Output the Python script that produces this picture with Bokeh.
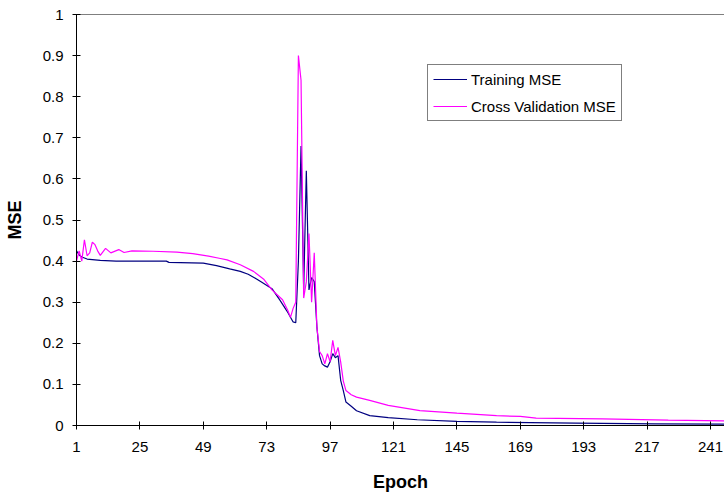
from bokeh.plotting import figure
from bokeh.models import Range1d, FixedTicker, Span, Legend, LegendItem
from bokeh.embed import file_html
from bokeh.resources import INLINE

# ---- data ----
train_epoch = [1, 2, 3, 5, 10, 16, 35, 36, 49, 54, 59, 63, 66, 69, 71, 75, 78, 80, 81, 83, 84,
               85, 86, 87, 88, 89, 90, 91, 92, 93, 94, 95, 96, 97, 98, 99, 100, 101, 102, 103,
               105, 107, 112, 119, 130, 145, 160, 190, 220, 250]
train_mse = [0.425, 0.415, 0.41, 0.405, 0.402, 0.400, 0.400, 0.397, 0.395, 0.389, 0.381, 0.375,
             0.368, 0.357, 0.349, 0.333, 0.305, 0.285, 0.275, 0.252, 0.250,
             0.40, 0.68, 0.33, 0.62, 0.33, 0.36, 0.35, 0.24, 0.17, 0.15, 0.145, 0.142, 0.155,
             0.175, 0.165, 0.17, 0.11, 0.085, 0.057,
             0.047, 0.036, 0.024, 0.019, 0.014, 0.010, 0.008, 0.006, 0.004, 0.003]

cv_epoch = [1, 2, 3, 4, 5, 6, 7, 8, 9, 10, 12, 14, 17, 19, 22, 30, 39, 45, 51, 55, 58, 63, 68,
            72, 75, 79, 81, 82, 83, 84, 85, 86, 87, 88, 89, 90, 91, 92, 93, 94, 95, 96, 97, 98,
            99, 100, 101, 102, 103, 105, 107, 112, 119, 131, 145, 160, 169, 175, 200, 225, 250]
cv_mse = [0.40, 0.425, 0.40, 0.452, 0.413, 0.42, 0.446, 0.44, 0.425, 0.414, 0.431, 0.42, 0.428,
          0.421, 0.425, 0.424, 0.422, 0.418, 0.412, 0.407, 0.403, 0.391, 0.375,
          0.355, 0.33, 0.306, 0.28, 0.263, 0.285, 0.30, 0.90, 0.84, 0.31, 0.35, 0.467, 0.30,
          0.42, 0.24, 0.18, 0.17, 0.15, 0.175, 0.155, 0.207,
          0.17, 0.19, 0.155, 0.108, 0.085, 0.075, 0.069, 0.061, 0.049, 0.036, 0.030, 0.024,
          0.022, 0.018, 0.016, 0.013, 0.011]

x_ticks = [1, 25, 49, 73, 97, 121, 145, 169, 193, 217, 241]
y_ticks = [0, 0.1, 0.2, 0.3, 0.4, 0.5, 0.6, 0.7, 0.8, 0.9, 1]
y_tick_labels = ["0", "0.1", "0.2", "0.3", "0.4", "0.5", "0.6", "0.7", "0.8", "0.9", "1"]

series_names = ["Training MSE", "Cross Validation MSE"]
series_colors = ["#000080", "#FF00FF"]

FONT = "Liberation Sans"

p = figure(width=724, height=498, output_backend="svg", toolbar_location=None,
           x_range=Range1d(1, 246.3), y_range=Range1d(0, 1),
           min_border_left=76, min_border_right=0, min_border_top=14, min_border_bottom=73)
p.outline_line_color = None
p.xgrid.visible = False
p.ygrid.visible = False
p.background_fill_color = "white"
p.border_fill_color = "white"

r1 = p.line(train_epoch, train_mse, line_color=series_colors[0], line_width=1.2)
r2 = p.line(cv_epoch, cv_mse, line_color=series_colors[1], line_width=1.2)

p.add_layout(Span(location=1, dimension="width", line_color="black", line_width=1))

for ax in (p.xaxis[0], p.yaxis[0]):
    ax.axis_line_color = "black"
    ax.axis_line_width = 1
    ax.major_tick_line_color = "black"
    ax.major_tick_in = 4
    ax.major_tick_out = 4
    ax.minor_tick_line_color = None
    ax.major_label_text_font = FONT
    ax.major_label_text_font_size = "15px"
    ax.major_label_text_color = "black"
    ax.axis_label_text_font = FONT
    ax.axis_label_text_font_size = "18px"
    ax.axis_label_text_font_style = "bold"
    ax.axis_label_text_color = "black"

p.xaxis[0].ticker = FixedTicker(ticks=x_ticks)
p.yaxis[0].ticker = FixedTicker(ticks=y_ticks)
p.yaxis[0].major_label_overrides = dict(zip(y_ticks, y_tick_labels))
p.xaxis[0].axis_label = "Epoch"
p.yaxis[0].axis_label = "MSE"
p.xaxis[0].major_label_standoff = 12
p.yaxis[0].major_label_standoff = 9
p.xaxis[0].axis_label_standoff = 17
p.yaxis[0].axis_label_standoff = 15

legend = Legend(items=[LegendItem(label=series_names[0], renderers=[r1]),
                       LegendItem(label=series_names[1], renderers=[r2])],
                location=(351, 304))
legend.label_text_font = FONT
legend.label_text_font_size = "15px"
legend.label_text_color = "black"
legend.glyph_width = 34
legend.glyph_height = 18
legend.label_height = 18
legend.label_standoff = 4
legend.spacing = 9
legend.padding = 5
legend.margin = 0
legend.border_line_color = "black"
legend.border_line_width = 1
legend.background_fill_color = "white"
legend.background_fill_alpha = 1
p.add_layout(legend)

open("out.html", "w").write(file_html(p, INLINE))
